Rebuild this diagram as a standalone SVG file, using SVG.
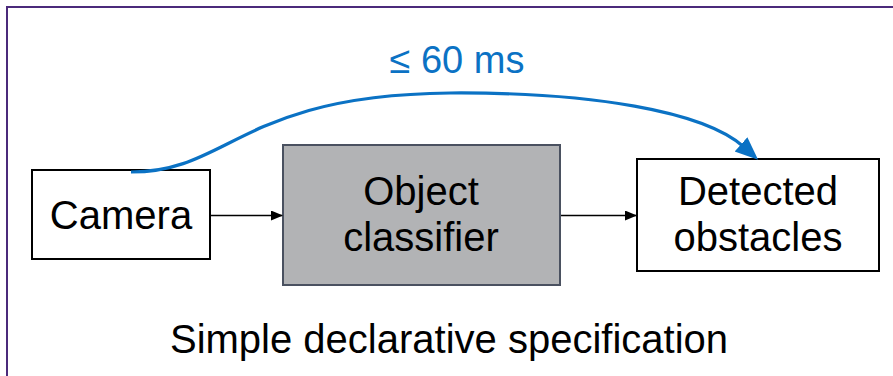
<svg xmlns="http://www.w3.org/2000/svg" width="893" height="376" viewBox="0 0 893 376">
<style>
text{font-family:"Liberation Sans",Arial,sans-serif;font-size:40px;fill:#000;text-anchor:middle}
.box{fill:#fff;stroke:#000;stroke-width:2}
.gray{fill:#b2b3b5;stroke:#4a5160;stroke-width:2}
.conn{fill:none;stroke:#000;stroke-width:1.5}
.blue{fill:none;stroke:#0b72c4;stroke-width:3.2}
</style>
<defs>
<marker id="ab" markerUnits="userSpaceOnUse" markerWidth="12" markerHeight="10" refX="11" refY="5" orient="auto"><path d="M0,0 L12,5 L0,10 z" fill="#000"/></marker>
<marker id="bl" markerUnits="userSpaceOnUse" markerWidth="24" markerHeight="20" refX="4" refY="9.5" orient="auto"><path d="M0,0 L23,9.5 L0,19 z" fill="#0b72c4"/></marker>
</defs>
<path d="M7,376 V7 H893" fill="none" stroke="#4b2a7b" stroke-width="2"/>
<g id="camera"><rect class="box" x="32" y="170" width="178" height="89"/><text x="121" y="229">Camera</text></g>
<g id="classifier"><rect class="gray" x="283" y="145" width="277" height="140"/><text x="421" y="205">Object</text><text x="421" y="251">classifier</text></g>
<g id="detected"><rect class="box" x="637" y="159" width="242" height="112"/><text x="758" y="205">Detected</text><text x="758" y="251">obstacles</text></g>
<g id="connectors">
<line class="conn" x1="211" y1="215.5" x2="282" y2="215.5" marker-end="url(#ab)"/>
<line class="conn" x1="561" y1="215.5" x2="636" y2="215.5" marker-end="url(#ab)"/>
<path class="blue" d="M131,172 C230,172 240,95 450,93 C590,92 704,111 744,147" marker-end="url(#bl)"/>
<text x="457" y="73" style="font-size:38px;fill:#0b72c4">≤ 60 ms</text>
</g>
<text x="449" y="353">Simple declarative specification</text>
</svg>
